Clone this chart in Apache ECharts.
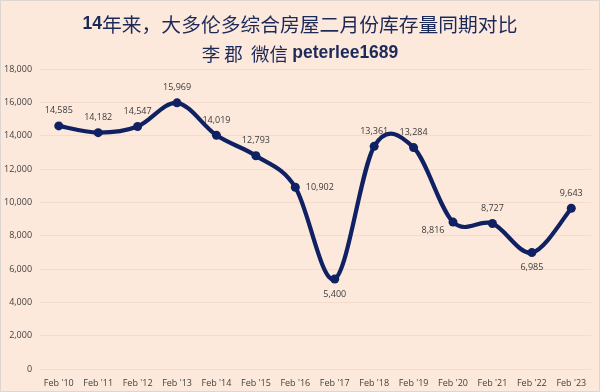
<!DOCTYPE html>
<html><head><meta charset="utf-8">
<script src="https://cdn.jsdelivr.net/npm/echarts@6/dist/echarts.min.js"></script>
<style>html,body{margin:0;padding:0;background:#fde9dc;}#c{width:600px;height:392px;box-sizing:border-box;border:1px solid #ddd5cf;}</style>
</head><body><div id="c"></div>
<script>
const categories = ["Feb '10","Feb '11","Feb '12","Feb '13","Feb '14","Feb '15","Feb '16","Feb '17","Feb '18","Feb '19","Feb '20","Feb '21","Feb '22","Feb '23"];
const inventory = [14585,14182,14547,15969,14019,12793,10902,5400,13361,13284,8816,8727,6985,9643];
const labelPositions = ['top','top','top','top','top','top','right','bottom','top','top','left','top','bottom','top'];
const yTicks = {min:0,max:18000,interval:2000};

const chart = echarts.init(document.getElementById('c'));
const navy = '#0f2163';

// Excel-like smoothed curve (Catmull-Rom style Bezier) through the data, using the chart's own coordinates
function renderCurve(params, api){
  if (params.dataIndex !== 0) return null;
  const pts = inventory.map((v,i)=>api.coord([i, v]));
  const t = 1/6;
  let d = 'M' + pts[0][0] + ' ' + pts[0][1];
  for (let i=0;i<pts.length-1;i++){
    const p0 = pts[Math.max(i-1,0)], p1 = pts[i], p2 = pts[i+1], p3 = pts[Math.min(i+2,pts.length-1)];
    const c1x = p1[0] + (p2[0]-p0[0])*t, c1y = p1[1] + (p2[1]-p0[1])*t;
    const c2x = p2[0] - (p3[0]-p1[0])*t, c2y = p2[1] - (p3[1]-p1[1])*t;
    d += ' C' + c1x + ' ' + c1y + ' ' + c2x + ' ' + c2y + ' ' + p2[0] + ' ' + p2[1];
  }
  return {type:'path', shape:{pathData:d}, style:{fill:'none', stroke:navy, lineWidth:4.2, lineJoin:'round', lineCap:'round'}};
}

chart.setOption({
  backgroundColor:'#fde9dc',
  animation:false,
  title:{
    text:'{b|14}{n|年来，大多伦多综合房屋二月份库存量同期对比}\n{n2|李 郡  微信 }{b|peterlee1689}',
    left:'center', top:4,
    textStyle:{
      lineHeight:29,
      rich:{
        b:{fontFamily:'Liberation Sans, Arial, sans-serif',fontWeight:'bold',fontSize:17.5,color:'#1c2a5a',lineHeight:29},
        n:{fontFamily:'Noto Sans CJK SC',fontWeight:'normal',fontSize:19.8,color:'#1c2a5a',lineHeight:29},
        n2:{fontFamily:'Noto Sans CJK SC',fontWeight:'normal',fontSize:18.5,color:'#1c2a5a',lineHeight:29}
      }
    }
  },
  grid:{left:37,right:8,top:68,bottom:22,containLabel:false},
  xAxis:{
    type:'category',data:categories,boundaryGap:true,
    axisLine:{show:false},axisTick:{show:false},
    axisLabel:{fontSize:9,color:'#404040',margin:10,fontFamily:'Open Sans, sans-serif'}
  },
  yAxis:{
    type:'value',min:yTicks.min,max:yTicks.max,interval:yTicks.interval,
    axisLine:{show:false},axisTick:{show:false},
    splitLine:{lineStyle:{color:'#f3dccd',width:1}},
    axisLabel:{fontSize:9,color:'#404040',margin:7,fontFamily:'Open Sans, sans-serif',
      formatter:v=>v.toLocaleString('en-US')}
  },
  series:[{
    type:'custom', data:inventory.map((v,i)=>[i,v]), renderItem:renderCurve, z:2, silent:true,
    encode:{x:0,y:1}
  },{
    type:'line',data:inventory.map((v,i)=>({value:v,label:{position:labelPositions[i], offset: labelPositions[i]==='left'?[2,8]:[0,0]}})),
    symbol:'circle',symbolSize:9,z:3,
    lineStyle:{width:0,opacity:0},
    itemStyle:{color:navy},
    label:{show:true,fontSize:9,color:'#3a3a3a',distance:6,fontFamily:'Open Sans, sans-serif',
      formatter:p=>p.value.toLocaleString('en-US')}
  }]
});
</script></body></html>
